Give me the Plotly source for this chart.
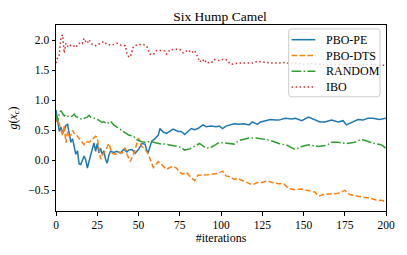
import plotly.graph_objects as go

# ---- data ----
pe_x = [0,1,2,3,4,5,6,7,8,9,10,11,12,13,14,15,16,17,18,19,20,21,22,23,24,25,26,27,28,29,30,31,32,33,35,37,39,41,43,44,46,48,50,52,54,55,56,58,60,62,63,65,67,69,71,74,76,78,80,82,84,86,89,91,94,97,99,101,103,106,108,111,114,117,119,122,124,127,130,133,135,139,143,145,149,153,156,160,163,167,171,174,176,180,183,186,189,192,196,200]
pe_y = [0.84,0.62,0.48,0.55,0.45,0.50,0.58,0.60,0.42,0.30,0.36,0.20,0.10,0.16,-0.06,-0.07,0.02,0.07,0.01,-0.13,-0.02,0.08,0.22,0.29,0.15,0.28,0.12,0.20,0.10,0.16,0.02,-0.05,0.08,0.15,0.13,0.15,0.12,0.18,0.14,0.17,0.18,0.12,0.18,0.28,0.27,0.16,0.14,0.32,0.36,0.42,0.53,0.47,0.45,0.48,0.52,0.48,0.48,0.43,0.48,0.53,0.51,0.53,0.59,0.56,0.57,0.56,0.57,0.53,0.57,0.59,0.61,0.60,0.61,0.59,0.64,0.60,0.64,0.66,0.68,0.67,0.67,0.70,0.69,0.70,0.66,0.72,0.68,0.64,0.64,0.67,0.64,0.66,0.59,0.64,0.68,0.67,0.70,0.70,0.68,0.70]

dts_x = [0,1,2,3,4,5,6,7,8,9,10,11,13,15,17,18,20,22,24,25,26,27,28,30,32,34,36,38,40,42,43,45,47,49,50,52,54,56,59,62,65,67,69,71,73,75,77,79,82,84,86,89,92,95,98,101,103,106,108,110,113,116,119,122,125,128,131,135,138,141,145,149,153,157,159,163,167,171,175,178,183,187,190,194,198,200]
dts_y = [0.64,0.70,0.60,0.50,0.42,0.58,0.29,0.48,0.40,0.42,0.50,0.45,0.40,0.33,0.26,0.31,0.30,0.35,0.40,0.38,0.22,0.02,0.08,0.16,0.28,0.12,0.10,0.14,0.12,0.21,0.10,-0.02,0.10,0.30,0.37,0.23,0.18,0.10,-0.12,-0.02,-0.09,-0.15,-0.12,-0.10,-0.13,-0.20,-0.23,-0.20,-0.29,-0.34,-0.25,-0.25,-0.24,-0.23,-0.22,-0.18,-0.26,-0.28,-0.32,-0.30,-0.34,-0.37,-0.41,-0.37,-0.37,-0.34,-0.37,-0.39,-0.39,-0.47,-0.49,-0.48,-0.51,-0.53,-0.60,-0.56,-0.56,-0.55,-0.50,-0.57,-0.60,-0.61,-0.63,-0.66,-0.67,-0.70]

rnd_x = [0,1,2,3,4,5,6,8,10,11,12,14,16,17,19,20,21,23,26,28,29,31,33,35,36,38,41,44,47,49,52,54,56,58,61,64,66,69,72,75,78,81,84,87,90,93,96,99,102,105,108,111,114,117,121,125,129,133,135,140,145,149,153,159,164,167,171,176,181,185,189,193,197,200]
rnd_y = [0.75,0.65,0.78,0.83,0.78,0.74,0.76,0.72,0.74,0.77,0.73,0.71,0.68,0.70,0.72,0.75,0.72,0.70,0.67,0.63,0.64,0.61,0.65,0.59,0.57,0.53,0.48,0.42,0.40,0.34,0.31,0.30,0.31,0.31,0.29,0.27,0.27,0.26,0.24,0.22,0.17,0.19,0.23,0.28,0.22,0.20,0.25,0.30,0.29,0.28,0.27,0.33,0.35,0.37,0.37,0.36,0.34,0.30,0.28,0.25,0.18,0.23,0.26,0.23,0.25,0.30,0.30,0.28,0.30,0.35,0.31,0.28,0.26,0.20]

ibo_x = [0,1,2,3,4,5,6,7,8,9,10,12,13,15,16,17,18,19,20,22,24,25,27,29,31,34,37,39,42,43,44,45,46,47,50,53,55,57,59,61,64,66,67,69,72,75,77,80,82,84,85,86,87,89,90,91,92,94,96,98,100,103,104,106,108,111,115,119,122,125,128,131,134,138,142,146,150,155,160,165,170,175,180,185,190,195,200]
ibo_y = [1.62,1.72,1.76,2.05,2.09,1.79,1.95,1.90,1.93,1.91,1.92,1.88,1.92,1.97,1.95,2.03,1.98,1.95,2.01,1.93,1.91,1.92,1.95,1.98,1.93,1.92,1.95,1.92,1.91,1.78,1.73,1.72,1.80,1.90,1.93,1.93,1.90,1.77,1.76,1.83,1.83,1.82,1.77,1.84,1.85,1.85,1.79,1.84,1.79,1.83,1.77,1.72,1.64,1.68,1.63,1.66,1.63,1.62,1.68,1.66,1.68,1.68,1.65,1.60,1.61,1.62,1.62,1.62,1.65,1.64,1.62,1.62,1.62,1.63,1.61,1.62,1.60,1.61,1.60,1.59,1.60,1.59,1.60,1.59,1.60,1.59,1.58]

series_names = ["PBO-PE", "PBO-DTS", "RANDOM", "IBO"]
x_ticks = [0, 25, 50, 75, 100, 125, 150, 175, 200]
y_ticks = [-0.5, 0.0, 0.5, 1.0, 1.5, 2.0]

FONT = "Liberation Serif, DejaVu Serif, serif"

colors = ["#1f77b4", "#ff7f0e", "#2ca02c", "#d62728"]
dashes = ["solid", "5.5px,2.4px", "9.6px,2.4px,1.5px,2.4px", "1.5px,2.5px"]

fig = go.Figure()
for (xs, ys), name, col, dash in zip(
    [(pe_x, pe_y), (dts_x, dts_y), (rnd_x, rnd_y), (ibo_x, ibo_y)], series_names, colors, dashes
):
    fig.add_trace(go.Scatter(x=xs, y=ys, mode="lines", name=name, showlegend=False,
                             line=dict(color=col, width=1.5, dash=dash)))

# ---- legend drawn in paper coordinates (matplotlib-like compact box) ----
bx0, bx1, by0, by1 = 0.705, 0.982, 0.614, 0.979
rx, ry = 0.009, 0.016
path = (f"M {bx0+rx},{by0} L {bx1-rx},{by0} Q {bx1},{by0} {bx1},{by0+ry} "
        f"L {bx1},{by1-ry} Q {bx1},{by1} {bx1-rx},{by1} L {bx0+rx},{by1} "
        f"Q {bx0},{by1} {bx0},{by1-ry} L {bx0},{by0+ry} Q {bx0},{by0} {bx0+rx},{by0} Z")
fig.add_shape(type="path", path=path, xref="paper", yref="paper",
              line=dict(color="#cccccc", width=1), fillcolor="rgba(255,255,255,0.8)",
              layer="above")
row_y = [0.921, 0.836, 0.751, 0.667]
for name, col, dash, yy in zip(series_names, colors, dashes, row_y):
    fig.add_shape(type="line", xref="paper", yref="paper", x0=0.714, x1=0.786, y0=yy, y1=yy,
                  line=dict(color=col, width=1.5, dash=dash), layer="above")
    fig.add_annotation(text=name, xref="paper", yref="paper", x=0.812, y=yy,
                       xanchor="left", yanchor="middle", showarrow=False,
                       font=dict(family=FONT, size=12, color="black"))

axis_common = dict(showgrid=False, zeroline=False, showline=True, linecolor="black",
                   linewidth=1, mirror=True, ticks="outside", ticklen=3.5,
                   tickwidth=0.8, tickcolor="black",
                   tickfont=dict(family=FONT, size=11.5, color="black"))

fig.update_layout(
    width=407, height=255,
    margin=dict(l=54, r=21, t=25, b=41),
    paper_bgcolor="white", plot_bgcolor="white",
    title=dict(text="Six Hump Camel", x=(54 + 386) / 2 / 407, xanchor="center",
               y=0.935, yanchor="middle",
               font=dict(family=FONT, size=13.5, color="black")),
    xaxis=dict(range=[0, 200], tickvals=x_ticks, title=dict(text="#iterations", standoff=3,
               font=dict(family=FONT, size=12, color="black")), **axis_common),
    yaxis=dict(range=[-0.845, 2.255], tickvals=y_ticks, tickformat=".1f",
               title=dict(text="<i>g</i>(<i>x</i><sub><i>c</i></sub>)", standoff=8,
                          font=dict(family=FONT, size=12, color="black")), **axis_common),
    showlegend=False,
)

fig.write_html("out.html", config={"displayModeBar": False},
               post_script="document.body.style.margin='0px';")
